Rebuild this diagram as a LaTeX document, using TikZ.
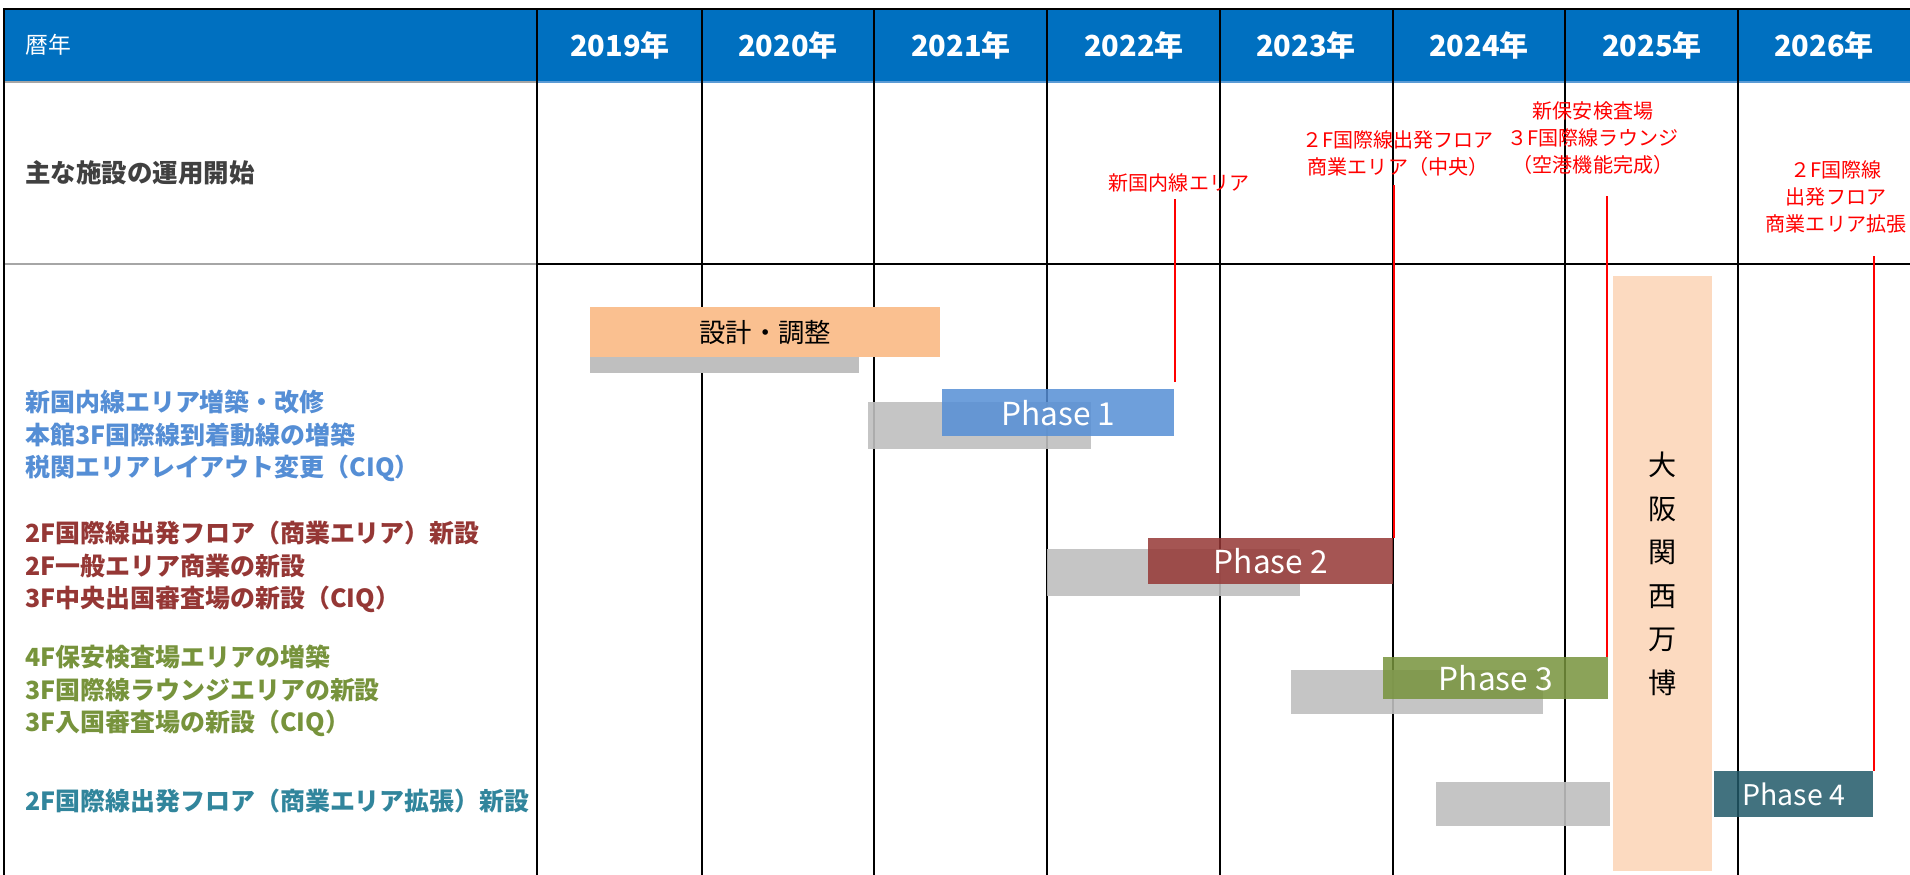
\documentclass[tikz,border=0pt]{standalone}
\usepackage{fontspec}
\setmainfont{Noto Sans CJK JP}
\definecolor{headBlue}{HTML}{0070C0}
\definecolor{headLine}{HTML}{5B9BD5}
\definecolor{rowGray}{HTML}{404040}
\definecolor{txtBlue}{HTML}{558ED5}
\definecolor{txtRed}{HTML}{953735}
\definecolor{txtGreen}{HTML}{77933C}
\definecolor{txtTeal}{HTML}{31859C}
\definecolor{phaseTeal}{HTML}{215968}
\definecolor{barGray}{HTML}{BFBFBF}
\definecolor{designOrange}{HTML}{FAC090}
\definecolor{expoPeach}{HTML}{FCDAC0}
\begin{document}
\begin{tikzpicture}[x=0.02cm,y=-0.02cm,
  lbl/.style={anchor=west,inner sep=0pt,align=left,font=\bfseries\fontsize{14.2}{18.6}\selectfont},
  yr/.style={text=white,inner sep=0pt,font=\bfseries\fontsize{16.5}{18}\selectfont},
  bar/.style={rectangle,anchor=north west,inner sep=0pt,text=white,fill opacity=0.85,text opacity=1,font=\fontsize{18}{20}\selectfont},
  shade/.style={rectangle,anchor=north west,inner sep=0pt,fill=barGray,fill opacity=0.9},
  milestone/.style={red,line width=1.1pt},
  note/.style={text=red,align=center,inner sep=0pt,font=\fontsize{11.4}{15.4}\selectfont},
  grid/.style={black,line width=0.8pt}]
\useasboundingbox (0,0) rectangle (1910,875);
% header
\fill[headBlue] (4,9) rectangle (1910,82);
\draw[gray!70,line width=1.6pt] (4,82) -- (537,82);
\draw[headLine,line width=1.2pt] (537,82) -- (1910,82);
\draw[gray!70,line width=1.6pt] (4,264) -- (537,264);
\draw[black,line width=1.2pt] (537,264) -- (1910,264);
\draw[grid] (4,875) -- (4,9) -- (1910,9);
\draw[grid] (537,9) -- (537,875);
\draw[grid] (702,9) -- (702,875);
\draw[grid] (874,9) -- (874,875);
\draw[grid] (1047,9) -- (1047,875);
\draw[grid] (1220,9) -- (1220,875);
\draw[grid] (1393,9) -- (1393,875);
\draw[grid] (1565,9) -- (1565,875);
\draw[grid] (1738,9) -- (1738,875);
\node (CAL) at (25,45) [anchor=west,inner sep=0pt,text=white,font=\fontsize{13}{15}\selectfont] {暦年};
\node (Y19) at (620,45) [yr] {2019年};
\node (Y20) at (788,45) [yr] {2020年};
\node (Y21) at (961,45) [yr] {2021年};
\node (Y22) at (1134,45) [yr] {2022年};
\node (Y23) at (1306,45) [yr] {2023年};
\node (Y24) at (1479,45) [yr] {2024年};
\node (Y25) at (1652,45) [yr] {2025年};
\node (Y26) at (1824,45) [yr] {2026年};
\node (OPEN) at (25,173) [anchor=west,inner sep=0pt,text=rowGray,font=\bfseries\fontsize{14.5}{17}\selectfont] {主な施設の運用開始};
% work items
\node (W1) at (25,436) [lbl,text=txtBlue] {新国内線エリア増築・改修\\本館3F国際線到着動線の増築\\税関エリアレイアウト変更（CIQ）};
\node (W2) at (25,567) [lbl,text=txtRed] {2F国際線出発フロア（商業エリア）新設\\2F一般エリア商業の新設\\3F中央出国審査場の新設（CIQ）};
\node (W3) at (25,691) [lbl,text=txtGreen] {4F保安検査場エリアの増築\\3F国際線ラウンジエリアの新設\\3F入国審査場の新設（CIQ）};
\node (W4) at (25,801) [lbl,text=txtTeal] {2F国際線出発フロア（商業エリア拡張）新設};
% bars
\node (G0) at (590,357) [shade,fill opacity=1,minimum width=5.38cm,minimum height=0.32cm] {};
\node (DS) at (590,307) [rectangle,anchor=north west,inner sep=0pt,fill=designOrange,minimum width=7cm,minimum height=1cm,font=\fontsize{15}{18}\selectfont] {設計・調整};
\node (EXPO) at (1613,276) [rectangle,anchor=north west,inner sep=0pt,fill=expoPeach,minimum width=1.98cm,minimum height=11.9cm,align=center,font=\fontsize{16}{24.8}\selectfont] {大\\阪\\関\\西\\万\\博};
\node (G1) at (868,402) [shade,minimum width=4.46cm,minimum height=0.94cm] {};
\node (P1) at (942,389) [bar,fill=txtBlue,minimum width=4.64cm,minimum height=0.94cm] {Phase 1};
\node (G2) at (1047,549) [shade,minimum width=5.06cm,minimum height=0.94cm] {};
\node (P2) at (1148,538) [bar,fill=txtRed,minimum width=4.9cm,minimum height=0.92cm] {Phase 2};
\node (G3) at (1291,670) [shade,minimum width=5.04cm,minimum height=0.88cm] {};
\node (P3) at (1383,657) [bar,fill=txtGreen,minimum width=4.5cm,minimum height=0.84cm] {Phase 3};
\node (G4) at (1436,782) [shade,minimum width=3.48cm,minimum height=0.88cm] {};
\node (P4) at (1714,771) [bar,fill=phaseTeal,minimum width=3.18cm,minimum height=0.92cm,font=\fontsize{16.2}{18}\selectfont] {Phase 4};
% milestones
\node (M1) at (1179,183) [note] {新国内線エリア};
\node (M2) at (1398,154) [note] {２F国際線出発フロア\\商業エリア（中央）};
\node (M3) at (1593,138) [note] {新保安検査場\\３F国際線ラウンジ\\（空港機能完成）};
\node (M4) at (1836,197) [note] {２F国際線\\出発フロア\\商業エリア拡張};
\coordinate (T1) at (1175,199);
\coordinate (T2) at (1393,185);
\coordinate (T3) at (1606,196);
\coordinate (T4) at (1875,256);
\draw[milestone] ([yshift=4pt]P1.north east) -- (P1.north east |- T1);
\draw[milestone] (P2.north east) -- (P2.north east |- T2);
\draw[milestone] ([xshift=-1pt]P3.north east) -- ([xshift=-1pt]P3.north east |- T3);
\draw[milestone] (P4.north east) -- (P4.north east |- T4);
\end{tikzpicture}
\end{document}
